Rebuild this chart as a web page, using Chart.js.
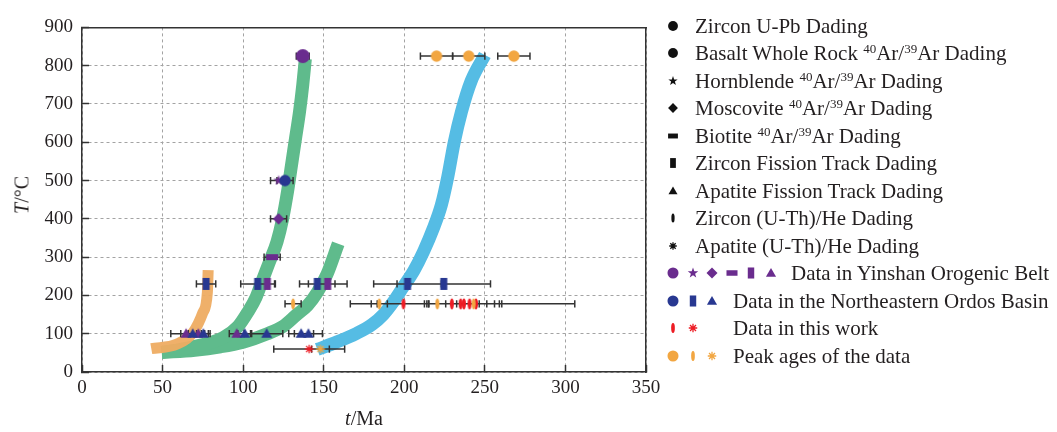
<!DOCTYPE html>
<html>
<head>
<meta charset="utf-8">
<title>Cooling paths, Dading</title>
<script src="https://cdn.jsdelivr.net/npm/chart.js@4.4.1/dist/chart.umd.min.js"></script>
<style>
    html, body { margin: 0; padding: 0; background: #fff; }
    #wrap {
        position: relative; width: 1057px; height: 432px; overflow: hidden;
        font-family: 'Liberation Serif', 'Times New Roman', serif; color: #231f20;
    }
    #chart { position: absolute; left: 0; top: 0; }
    .axis-title { position: absolute; font-size: 20px; white-space: nowrap; transform: translate(-50%, -50%); }
    #ytitle { transform: translate(-50%, -50%) rotate(-90deg); }
    .leg-row { position: absolute; font-size: 21px; line-height: 24px; white-space: nowrap; }
    .leg-icon { position: absolute; }
    sup { font-size: 13px; line-height: 0; vertical-align: 0.55em; }
</style>
</head>
<body>
<div id="wrap">
    <canvas id="chart" width="680" height="432" style="width:680px;height:432px"></canvas>
    <div class="axis-title" id="ytitle" style="left:22px;top:195px"><i>T</i>/°C</div>
    <div class="axis-title" id="xtitle" style="left:364px;top:418px"><i>t</i>/Ma</div>
    <div id="legend"></div>
</div>
<script>
// ---- data: [age Ma, temperature °C, error Ma] ----
const zirconUPbYinshan = [[137, 825, 4]];
const basaltArOrdos = [[126, 500, 5]];
const hornblendeArYinshan = [[122, 500, 5]];
const muscoviteArYinshan = [[122, 400, 5]];
const biotiteArYinshan = [[118, 300, 5]];
const zirconFTOrdos = [[77, 230, 6], [109, 230, 10.5], [146, 230, 11], [202, 230, 21], [224.5, 230, 29]];
const zirconFTYinshan = [[115, 230, 5], [152.5, 230, 12]];
const apatiteFTYinshan = [[64.6, 100, 9.5], [72.2, 100, 6.2], [96, 100, 4.6]];
const apatiteFTOrdos = [[68.7, 100, 7.4], [75.3, 100, 4.2], [101, 100, 4.3], [114.6, 100, 10], [136, 100, 7.7], [140.5, 100, 8.7]];
const zirconHeThisWork = [[199.5, 178, 33], [229.5, 178, 17], [235, 178, 21], [237, 178, 22], [240.5, 178, 20], [244.5, 178, 61.3]];
const apatiteHeThisWork = [[141, 60, 22]];
const zirconUPbPeaks = [[220, 825, 10], [240, 825, 10], [268, 825, 10]];
const zirconHePeaks = [[131, 178, 5], [184.5, 178, 5], [220.5, 178, 5.2], [243, 178, 8.2]];
const apatiteHePeaks = [[148, 60, 5.5]];

// cooling paths [age Ma, temperature °C]
const pathOrange = [[43, 61], [59, 73], [69, 104], [75, 155], [77.8, 208], [78.3, 266]];
const pathGreenSteep = [[49.5, 51], [67, 64], [87.5, 89.5], [97, 120], [103, 157], [108, 195], [112, 240], [116, 284],
    [121, 340], [124.5, 400], [127.5, 470], [130, 540], [132.5, 610], [135, 680], [137, 750], [138.6, 818]];
const pathGreenLow = [[49.5, 51], [70, 57], [86, 66], [100, 78], [115, 100], [125, 120], [133, 149], [140, 174],
    [146, 208], [152, 255], [159, 335]];
const pathBlue = [[146, 59], [158, 78], [170, 100], [180, 124], [187, 150], [193, 182], [199, 220], [206, 265],
    [212, 315], [218, 375], [223, 436], [227, 510], [231, 600], [235.5, 680], [241.5, 760], [250, 828]];

const xTicks = [0, 350, 50];
const yTicks = [0, 900, 100];

const legendLabels = [
    'Zircon U-Pb Dading',
    'Basalt Whole Rock <sup>40</sup>Ar/<sup>39</sup>Ar Dading',
    'Hornblende <sup>40</sup>Ar/<sup>39</sup>Ar Dading',
    'Moscovite <sup>40</sup>Ar/<sup>39</sup>Ar Dading',
    'Biotite <sup>40</sup>Ar/<sup>39</sup>Ar Dading',
    'Zircon Fission Track Dading',
    'Apatite Fission Track Dading',
    'Zircon (U-Th)/He Dading',
    'Apatite (U-Th)/He Dading',
    'Data in Yinshan Orogenic Belt',
    'Data in the Northeastern Ordos Basin',
    'Data in this work',
    'Peak ages of the data'
];

const PURPLE = '#6a2c8e';
const NAVY = '#283891';
const RED = '#ed1c24';
const ORANGE = '#f2a641';
const BLACK = '#111111';

const legendIcons = [
    [['circle', BLACK]],
    [['circle', BLACK]],
    [['star', BLACK]],
    [['diamond', BLACK]],
    [['hbar', BLACK]],
    [['vbar', BLACK]],
    [['triangle', BLACK]],
    [['ellipse', BLACK]],
    [['asterisk', BLACK]],
    [['circle', PURPLE], ['star', PURPLE], ['diamond', PURPLE], ['hbar', PURPLE], ['vbar', PURPLE], ['triangle', PURPLE]],
    [['circle', NAVY], ['vbar', NAVY], ['triangle', NAVY]],
    [['ellipse', RED], ['asterisk', RED]],
    [['circle', ORANGE], ['ellipse', ORANGE], ['asterisk', ORANGE]]
];

// ---- marker drawing ----
function drawShape(ctx, shape, color, cx, cy, s) {
    ctx.save();
    ctx.translate(cx, cy);
    ctx.fillStyle = color;
    ctx.strokeStyle = color;
    ctx.beginPath();
    if (shape === 'circle') {
        ctx.arc(0, 0, 6 * s, 0, Math.PI * 2);
    } else if (shape === 'star') {
        for (let i = 0; i < 10; i++) {
            const r = i % 2 ? 2.4 * s : 6 * s;
            const a = -Math.PI / 2 + i * Math.PI / 5;
            ctx.lineTo(r * Math.cos(a), r * Math.sin(a));
        }
        ctx.closePath();
    } else if (shape === 'diamond') {
        ctx.moveTo(0, -6 * s); ctx.lineTo(6 * s, 0); ctx.lineTo(0, 6 * s); ctx.lineTo(-6 * s, 0);
        ctx.closePath();
    } else if (shape === 'hbar') {
        ctx.rect(-6 * s, -3 * s, 12 * s, 6 * s);
    } else if (shape === 'vbar') {
        ctx.rect(-3.5 * s, -6 * s, 7 * s, 12 * s);
    } else if (shape === 'triangle') {
        ctx.moveTo(0, -5.5 * s); ctx.lineTo(5.5 * s, 4 * s); ctx.lineTo(-5.5 * s, 4 * s);
        ctx.closePath();
    } else if (shape === 'ellipse') {
        ctx.ellipse(0, 0, 2 * s, 5.5 * s, 0, 0, Math.PI * 2);
    }
    if (shape === 'asterisk') {
        ctx.lineWidth = 1.3;
        for (let i = 0; i < 4; i++) {
            const a = i * Math.PI / 4;
            const r = 4.6 * s;
            ctx.moveTo(-r * Math.cos(a), -r * Math.sin(a));
            ctx.lineTo(r * Math.cos(a), r * Math.sin(a));
        }
        ctx.stroke();
    } else {
        ctx.fill();
    }
    ctx.restore();
}

function markerImage(shape, color, s) {
    const c = document.createElement('canvas');
    c.width = 22; c.height = 22;
    drawShape(c.getContext('2d'), shape, color, 11, 11, s);
    return c;
}

function markerSet(label, series, shape, color, s) {
    return {
        label: label,
        data: series.map(p => ({ x: p[0], y: p[1] })),
        pointStyle: markerImage(shape, color, s),
        pointRadius: 6,
        showLine: false,
        order: 0
    };
}

function pathSet(label, path, color, width) {
    return {
        label: label,
        data: path.map(p => ({ x: p[0], y: p[1] })),
        showLine: true,
        borderColor: color,
        borderWidth: width,
        borderCapStyle: 'butt',
        cubicInterpolationMode: 'monotone',
        pointRadius: 0,
        order: 3
    };
}

// error bars built from the series
const pointSeries = [zirconUPbYinshan, basaltArOrdos, hornblendeArYinshan, muscoviteArYinshan, biotiteArYinshan,
    zirconFTOrdos, zirconFTYinshan, apatiteFTYinshan, apatiteFTOrdos, zirconHeThisWork, apatiteHeThisWork,
    zirconUPbPeaks, zirconHePeaks, apatiteHePeaks];
const errorData = [];
pointSeries.forEach(series => {
    series.forEach(([t, T, e]) => {
        errorData.push({ x: t - e, y: T }, { x: t + e, y: T }, { x: null, y: null });
    });
});

const datasets = [
    // markers (drawn last, on top)
    markerSet('Zircon U-Pb peaks', zirconUPbPeaks, 'circle', ORANGE, 0.95),
    markerSet('Zircon U-Pb Yinshan', zirconUPbYinshan, 'circle', PURPLE, 1.15),
    markerSet('Basalt Ordos', basaltArOrdos, 'circle', NAVY, 0.95),
    markerSet('Hornblende Yinshan', hornblendeArYinshan, 'star', PURPLE, 0.9),
    markerSet('Moscovite Yinshan', muscoviteArYinshan, 'diamond', PURPLE, 0.95),
    markerSet('Biotite Yinshan', biotiteArYinshan, 'hbar', PURPLE, 1),
    markerSet('ZFT Yinshan', zirconFTYinshan, 'vbar', PURPLE, 1),
    markerSet('ZFT Ordos', zirconFTOrdos, 'vbar', NAVY, 1),
    markerSet('AFT Ordos', apatiteFTOrdos, 'triangle', NAVY, 1),
    markerSet('AFT Yinshan', apatiteFTYinshan, 'triangle', PURPLE, 1),
    markerSet('ZHe peaks', zirconHePeaks, 'ellipse', ORANGE, 1),
    markerSet('ZHe this work', zirconHeThisWork, 'ellipse', RED, 1),
    markerSet('AHe peaks', apatiteHePeaks, 'asterisk', ORANGE, 0.95),
    markerSet('AHe this work', apatiteHeThisWork, 'asterisk', RED, 0.95),
    {
        label: 'errors',
        data: errorData,
        showLine: true,
        spanGaps: false,
        borderColor: '#333',
        borderWidth: 1.5,
        pointStyle: 'line',
        rotation: 90,
        pointRadius: 3.6,
        pointBorderColor: '#333',
        pointBorderWidth: 1.5,
        order: 2
    },
    pathSet('orange path', pathOrange, 'rgba(238,172,98,0.95)', 11),
    pathSet('green path steep', pathGreenSteep, '#5fbb8c', 13),
    pathSet('green path low', pathGreenLow, '#5fbb8c', 13),
    pathSet('blue path', pathBlue, '#55bce4', 13)
];

const tickFont = { family: "'Liberation Serif', 'Times New Roman', serif", size: 19 };

new Chart(document.getElementById('chart'), {
    type: 'scatter',
    data: { datasets: datasets },
    options: {
        responsive: false,
        animation: false,
        events: [],
        layout: { padding: { top: 17, right: 34, left: 0, bottom: 0 } },
        plugins: { legend: { display: false }, tooltip: { enabled: false } },
        scales: {
            x: {
                type: 'linear', position: 'bottom',
                min: xTicks[0], max: xTicks[1],
                afterFit: s => { s.height = 60; },
                ticks: { stepSize: xTicks[2], color: '#231f20', font: tickFont, padding: 12 },
                grid: { color: '#a3a3a3', lineWidth: 1, tickLength: -7, tickColor: '#333', tickWidth: 1.5 },
                border: { color: '#333', width: 1.5, dash: [3, 3] }
            },
            y: {
                type: 'linear', position: 'left',
                min: yTicks[0], max: yTicks[1],
                afterFit: s => { s.width = 82; },
                ticks: { stepSize: yTicks[2], color: '#231f20', font: tickFont, padding: 16 },
                grid: { color: '#a3a3a3', lineWidth: 1, tickLength: -7, tickColor: '#333', tickWidth: 1.5 },
                border: { color: '#333', width: 1.5, dash: [3, 3] }
            },
            x2: {
                type: 'linear', position: 'top',
                min: xTicks[0], max: xTicks[1],
                afterFit: s => { s.height = 0; },
                ticks: { display: false },
                grid: { drawOnChartArea: false, drawTicks: false },
                border: { color: '#333', width: 1.5 }
            },
            y2: {
                type: 'linear', position: 'right',
                min: yTicks[0], max: yTicks[1],
                afterFit: s => { s.width = 0; },
                ticks: { display: false },
                grid: { drawOnChartArea: false, drawTicks: false },
                border: { color: '#333', width: 1.5 }
            }
        }
    }
});

// ---- legend (HTML, right side) ----
const legend = document.getElementById('legend');
const legendTop = 25.7;
const legendStep = 27.5;
const iconX0 = 673;
const iconStep = 19.6;
legendLabels.forEach((label, i) => {
    const cy = legendTop + i * legendStep;
    const icons = legendIcons[i];
    icons.forEach(([shape, color], k) => {
        const c = document.createElement('canvas');
        c.width = 20; c.height = 20;
        c.className = 'leg-icon';
        c.style.left = (iconX0 + k * iconStep - 10) + 'px';
        c.style.top = (cy - 10) + 'px';
        drawShape(c.getContext('2d'), shape, color, 10, 10, color === BLACK ? 0.82 : 0.92);
        legend.appendChild(c);
    });
    const n = icons.length;
    const row = document.createElement('div');
    row.className = 'leg-row';
    row.style.left = (n === 1 ? 695 : n > 3 ? 791 : 733) + 'px';
    row.style.top = (cy - 12) + 'px';
    row.innerHTML = label;
    legend.appendChild(row);
});
</script>
</body>
</html>
